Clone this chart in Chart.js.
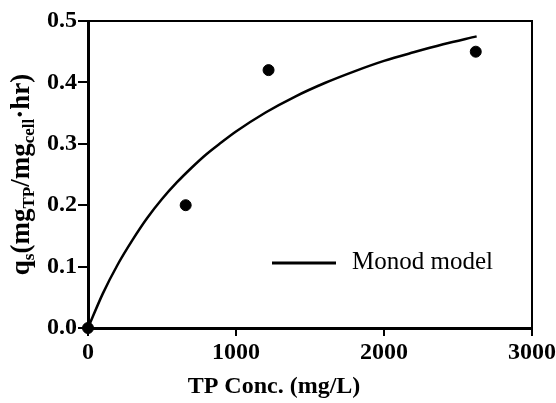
<!DOCTYPE html>
<html>
<head>
<meta charset="utf-8">
<script src="https://cdn.jsdelivr.net/npm/chart.js@4/dist/chart.umd.min.js"></script>
<style>
  html, body { margin: 0; padding: 0; background: #fff; }
  #wrap { width: 556px; height: 403px; }
</style>
</head>
<body>
<div id="wrap"><canvas id="myChart" width="556" height="403"></canvas></div>
<script>
// measured points
const concData = [0, 660, 1220, 2620];
const qsData = [0, 0.2, 0.42, 0.45];

// Monod model curve
const modelConc = [0, 100, 200, 300, 400, 500, 600, 700, 800, 900, 1000, 1200, 1400, 1600, 1800, 2000, 2200, 2400, 2626];
const modelQs = [0, 0.056, 0.103, 0.143, 0.179, 0.21, 0.237, 0.261, 0.283, 0.302, 0.32, 0.351, 0.377, 0.399, 0.418, 0.435, 0.449, 0.462, 0.475];

const legendLabel = "Monod model";
const xTitle = "TP Conc. (mg/L)";
// y title pieces: [text, subscript?]
const yTitleParts = [["q", false], ["s", true], ["(mg", false], ["TP", true], ["/mg", false], ["cell", true], ["·hr)", false]];

const serif = "'Liberation Serif', 'Times New Roman', serif";

const points = concData.map((x, i) => ({ x: x, y: qsData[i] }));
const curve = modelConc.map((x, i) => ({ x: x, y: modelQs[i] }));

// frame, titles and legend drawn by hand
const extras = {
  id: "extras",
  afterDraw(chart) {
    const ctx = chart.ctx;
    const a = chart.chartArea;
    ctx.save();
    // top and right border
    ctx.strokeStyle = "#000";
    ctx.lineWidth = 2;
    ctx.beginPath();
    ctx.moveTo(a.left, a.top);
    ctx.lineTo(a.right, a.top);
    ctx.lineTo(a.right, a.bottom);
    ctx.stroke();

    // legend
    ctx.lineWidth = 3;
    ctx.beginPath();
    ctx.moveTo(272, 263);
    ctx.lineTo(336, 263);
    ctx.stroke();
    ctx.fillStyle = "#000";
    ctx.font = "25px " + serif;
    ctx.textBaseline = "middle";
    ctx.textAlign = "left";
    ctx.fillText(legendLabel, 352, 262);

    // x title (sits left of the plot centre in the original)
    ctx.font = "bold 24px " + serif;
    ctx.textAlign = "center";
    ctx.fillText(xTitle, 274, 387);

    // y title with subscripts
    ctx.textAlign = "left";
    const mainFont = "bold 27px " + serif;
    const subFont = "bold 17px " + serif;
    let total = 0;
    yTitleParts.forEach(([t, sub]) => {
      ctx.font = sub ? subFont : mainFont;
      total += ctx.measureText(t).width;
    });
    ctx.translate(29, (a.top + a.bottom) / 2);
    ctx.rotate(-Math.PI / 2);
    ctx.textBaseline = "alphabetic";
    let x = -total / 2;
    yTitleParts.forEach(([t, sub]) => {
      ctx.font = sub ? subFont : mainFont;
      ctx.fillText(t, x, sub ? 5 : 0);
      x += ctx.measureText(t).width;
    });
    ctx.restore();
  },
};

const ctx = document.getElementById("myChart").getContext("2d");
const myChart = new Chart(ctx, {
  type: "scatter",
  data: {
    datasets: [
      {
        label: "Data",
        data: points,
        backgroundColor: "#000",
        borderColor: "#000",
        pointRadius: 5.5,
        pointHoverRadius: 5.5,
        clip: false,
      },
      {
        label: legendLabel,
        data: curve,
        showLine: true,
        borderColor: "#000",
        borderWidth: 2.5,
        pointRadius: 0,
        cubicInterpolationMode: "monotone",
        fill: false,
      },
    ],
  },
  options: {
    responsive: false,
    animation: false,
    layout: { padding: { left: 0, right: 24, top: 21, bottom: 0 } },
    plugins: {
      legend: { display: false },
      tooltip: { enabled: false },
    },
    scales: {
      x: {
        type: "linear",
        min: 0,
        max: 3000,
        ticks: {
          stepSize: 1000,
          color: "#000",
          padding: 2,
          font: { family: serif, size: 24, weight: "bold" },
          callback: (v) => String(v),
        },
        grid: { drawOnChartArea: false, tickLength: 8, color: "#000", lineWidth: 2 },
        border: { color: "#000", width: 3 },
        afterFit(scale) {
          scale.height = 75;
          scale.paddingLeft = 0;
          scale.paddingRight = 0;
        },
      },
      y: {
        min: 0,
        max: 0.5,
        ticks: {
          stepSize: 0.1,
          color: "#000",
          padding: 1,
          font: { family: serif, size: 24, weight: "bold" },
          callback: (v) => v.toFixed(1),
        },
        grid: { drawOnChartArea: false, tickLength: 10, color: "#000", lineWidth: 2 },
        border: { color: "#000", width: 3 },
        afterFit(scale) {
          scale.width = 88;
          scale.paddingTop = 0;
          scale.paddingBottom = 0;
        },
      },
    },
  },
  plugins: [extras],
});
</script>
</body>
</html>
